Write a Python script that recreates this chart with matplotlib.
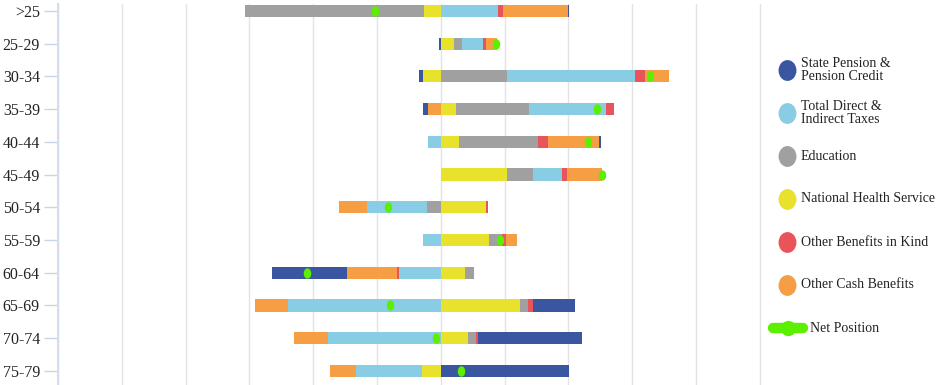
import numpy as np
import matplotlib
matplotlib.use('Agg')
import matplotlib.pyplot as plt
from matplotlib.path import Path
from matplotlib.transforms import Affine2D

# age bands, top to bottom
age_groups = ['>25', '25-29', '30-34', '35-39', '40-44', '45-49',
              '50-54', '55-59', '60-64', '65-69', '70-74', '75-79']

# contribution per person (£'000), sign = side of the zero line
nhs = [-1.31, 1.02, -1.39, 1.18, 1.43, 5.22, 3.57, 3.79, 1.93, 6.21, 2.12, -1.49]
education = [-14.0, 0.68, 5.22, 5.75, 6.17, 2.01, -1.10, 1.00, 0.71, 0.65, 0.63, 0.0]
taxes = [4.47, 1.62, 9.98, 5.98, -1.00, 2.30, -4.68, -1.36, -3.27, -11.94, -8.81, -5.13]
other_kind = [0.39, 0.26, 0.81, 0.63, 0.81, 0.34, 0.16, 0.31, -0.13, 0.37, 0.13, 0.0]
other_cash = [5.14, 0.84, 1.91, -1.02, 3.97, 2.74, -2.19, 0.86, -3.94, -2.63, -2.66, -2.08]
state_pension = [0.08, -0.16, -0.34, -0.34, 0.16, 0.04, 0.0, 0.0, -5.85, 3.29, 8.20, 10.08]
net_position = [-5.15, 4.34, 16.40, 12.25, 11.57, 12.66, -4.13, 4.67, -10.45, -3.97, -0.34, 1.59]

# stacking order (outward from zero)
series = [
    ('National Health Service', nhs, '#E8E22C'),
    ('Education', education, '#A0A0A0'),
    ('Total Direct &\nIndirect Taxes', taxes, '#88CDE3'),
    ('Other Benefits in Kind', other_kind, '#E8545A'),
    ('Other Cash Benefits', other_cash, '#F59E44'),
    ('State Pension &\nPension Credit', state_pension, '#3B56A0'),
]
legend_order = ['State Pension &\nPension Credit', 'Total Direct &\nIndirect Taxes',
                'Education', 'National Health Service', 'Other Benefits in Kind',
                'Other Cash Benefits']
net_color = '#5CF000'

W, H = 936, 385
fig = plt.figure(figsize=(W / 100, H / 100), dpi=100)
ax = fig.add_axes([58 / W, 0, (770 - 58) / W, (H - 4) / H])

y = np.arange(len(age_groups))
pos_base = np.zeros(len(age_groups))
neg_base = np.zeros(len(age_groups))
for name, vals, col in series:
    v = np.array(vals)
    left = np.where(v >= 0, pos_base, neg_base + v)
    ax.barh(y, np.abs(v), left=left, height=0.37, color=col, linewidth=0, zorder=2)
    pos_base = pos_base + np.where(v > 0, v, 0)
    neg_base = neg_base + np.where(v < 0, v, 0)

# slightly tall dots like the original
ell = Path.unit_circle().transformed(Affine2D().scale(0.72, 1.0))
ax.plot(net_position, y, linestyle='none', marker=ell, markersize=7.5,
        color=net_color, markeredgewidth=0, zorder=3)

ax.set_xlim(-30, 25.8)
ax.set_ylim(len(age_groups) - 1 + 0.43, -0.21)
ax.set_xticks(np.arange(-30, 26, 5))
ax.xaxis.grid(True, color='#E3E3E3', linewidth=1, zorder=0)
ax.tick_params(axis='x', length=0, labelbottom=False)
ax.set_yticks(y)
ax.set_yticklabels(age_groups, family='Liberation Serif', fontsize=11.5, color='#222222')
ax.tick_params(axis='y', length=10, width=1, color='#C9D5E8', pad=3)
for s in ['top', 'right', 'bottom']:
    ax.spines[s].set_visible(False)
ax.spines['left'].set_color('#D3DDEC')
ax.spines['left'].set_linewidth(1.5)
ax.set_axisbelow(True)

# legend drawn by hand on the right
lax = fig.add_axes([0, 0, 1, 1])
lax.set_xlim(0, W)
lax.set_ylim(H, 0)
lax.axis('off')
colors = {name: col for name, vals, col in series}
leg_ell = Path.unit_circle().transformed(Affine2D().scale(0.86, 1.0))
for i, name in enumerate(legend_order):
    ly = 70 + 43 * i
    lax.plot([787], [ly], linestyle='none', marker=leg_ell, markersize=15,
             color=colors[name], markeredgewidth=0)
    lax.text(801, ly, name, va='center', ha='left', fontsize=10,
             family='Liberation Serif', color='#222222', linespacing=1.05)
ly = 70 + 43 * len(legend_order)
lax.plot([773, 803], [ly, ly], color=net_color, linewidth=7.5, solid_capstyle='round')
lax.plot([788], [ly], marker='o', markersize=11, color=net_color, markeredgewidth=0)
lax.text(810, ly, 'Net Position', va='center', ha='left', fontsize=10,
         family='Liberation Serif', color='#222222')

plt.savefig('out.png', dpi=100)
